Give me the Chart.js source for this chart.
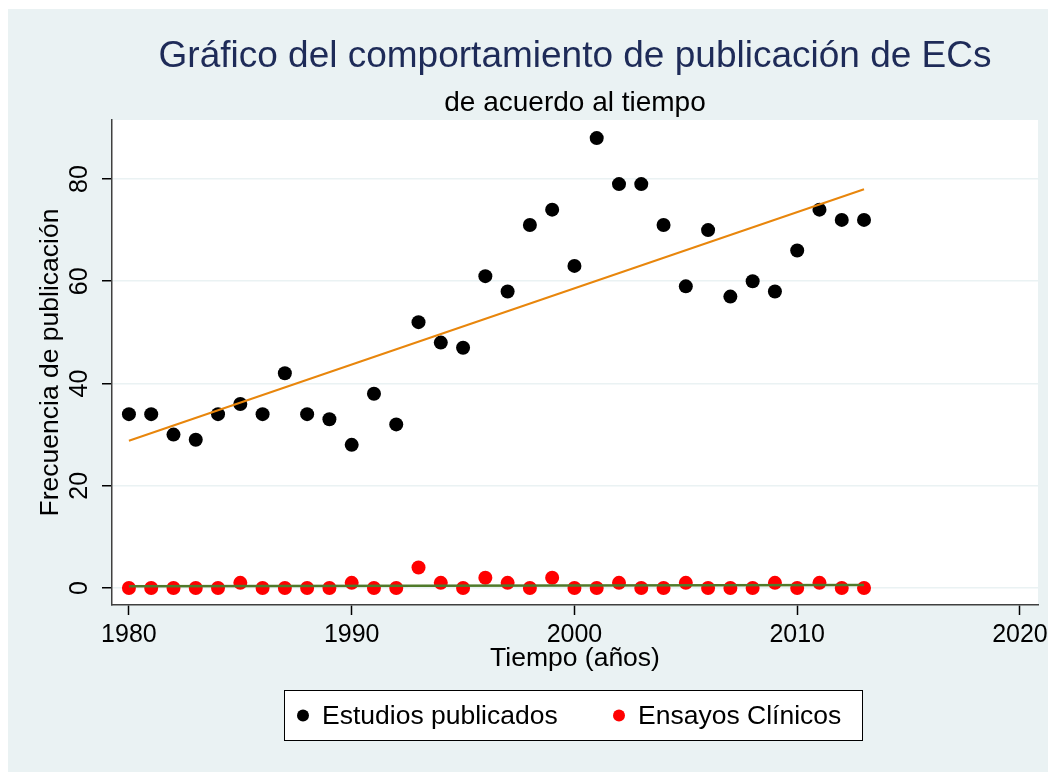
<!DOCTYPE html>
<html>
<head>
<meta charset="utf-8">
<script src="https://cdn.jsdelivr.net/npm/chart.js@4"></script>
<style>
  html, body { margin: 0; padding: 0; background: #ffffff; }
  #wrap { width: 1048px; height: 772px; position: relative; }
</style>
</head>
<body>
<div id="wrap"><canvas id="chart" width="1048" height="772"></canvas></div>
<script>
// Publicaciones por año
const years = [1980, 1981, 1982, 1983, 1984, 1985, 1986, 1987, 1988, 1989,
  1990, 1991, 1992, 1993, 1994, 1995, 1996, 1997, 1998, 1999,
  2000, 2001, 2002, 2003, 2004, 2005, 2006, 2007, 2008, 2009,
  2010, 2011, 2012, 2013];
const estudios = [34, 34, 30, 29, 34, 36, 34, 42, 34, 33,
  28, 38, 32, 52, 48, 47, 61, 58, 71, 74,
  63, 88, 79, 79, 71, 59, 70, 57, 60, 58,
  66, 74, 72, 72];
const ensayos = [0, 0, 0, 0, 0, 1, 0, 0, 0, 0,
  1, 0, 0, 4, 1, 0, 2, 1, 0, 2,
  0, 0, 1, 0, 0, 1, 0, 0, 0, 1,
  0, 1, 0, 0];

// Rectas de ajuste (extremos)
const fitYears = [1980, 2013];
const fitEstudios = [28.8, 78.0];
const fitEnsayos = [0.35, 0.6];

const yTicks = [0, 20, 40, 60, 80];
const xTicks = [1980, 1990, 2000, 2010, 2020];

const FONT = '"Liberation Sans", Arial, Helvetica, sans-serif';

function toPoints(xs, ys) {
  return xs.map((x, i) => ({ x: x, y: ys[i] }));
}

// Fondo estilo Stata
const backgroundPlugin = {
  id: 'stataBackground',
  beforeDraw(chart) {
    const { ctx, chartArea } = chart;
    ctx.save();
    ctx.fillStyle = '#ffffff';
    ctx.fillRect(0, 0, chart.width, chart.height);
    ctx.fillStyle = '#eaf2f3';
    ctx.fillRect(8, 9, chart.width - 8, chart.height - 9);
    ctx.fillStyle = '#ffffff';
    ctx.fillRect(chartArea.left, chartArea.top, chartArea.right - chartArea.left, chartArea.bottom - chartArea.top);
    ctx.restore();
  }
};

// Títulos, etiquetas de ejes y leyenda
const textPlugin = {
  id: 'stataText',
  afterDraw(chart) {
    const { ctx, chartArea } = chart;
    const xScale = chart.scales.x;
    const yScale = chart.scales.y;
    const cx = (chartArea.left + chartArea.right) / 2;
    const cy = (chartArea.top + chartArea.bottom) / 2;

    ctx.save();
    ctx.textAlign = 'center';
    ctx.textBaseline = 'alphabetic';

    ctx.fillStyle = '#1e2b58';
    ctx.font = `37px ${FONT}`;
    ctx.fillText('Gráfico del comportamiento de publicación de ECs', cx, 67);

    ctx.fillStyle = '#000000';
    ctx.font = `28px ${FONT}`;
    ctx.fillText('de acuerdo al tiempo', cx, 111);

    // Etiquetas X
    ctx.font = `25px ${FONT}`;
    xTicks.forEach(v => {
      ctx.fillText(String(v), xScale.getPixelForValue(v), 642);
    });

    // Etiquetas Y giradas
    ctx.textBaseline = 'middle';
    yTicks.forEach(v => {
      const py = yScale.getPixelForValue(v);
      ctx.save();
      ctx.translate(80, py);
      ctx.rotate(-Math.PI / 2);
      ctx.fillText(String(v), 0, 0);
      ctx.restore();
    });

    // Título eje Y
    ctx.font = `26.5px ${FONT}`;
    ctx.save();
    ctx.translate(51, cy);
    ctx.rotate(-Math.PI / 2);
    ctx.fillText('Frecuencia de publicación', 0, 0);
    ctx.restore();

    // Título eje X
    ctx.textBaseline = 'alphabetic';
    ctx.fillText('Tiempo (años)', cx, 666);

    // Leyenda
    const box = { x: 284.5, y: 690.5, w: 578, h: 50 };
    ctx.fillStyle = '#ffffff';
    ctx.fillRect(box.x, box.y, box.w, box.h);
    ctx.strokeStyle = '#000000';
    ctx.lineWidth = 1;
    ctx.strokeRect(box.x, box.y, box.w, box.h);

    const entries = [
      { label: chart.data.datasets[0].label, color: chart.data.datasets[0].backgroundColor, mx: 303, tx: 322 },
      { label: chart.data.datasets[1].label, color: chart.data.datasets[1].backgroundColor, mx: 619, tx: 638 }
    ];
    const ly = box.y + box.h / 2;
    ctx.textBaseline = 'middle';
    entries.forEach(e => {
      ctx.beginPath();
      ctx.arc(e.mx, ly, 6, 0, Math.PI * 2);
      ctx.fillStyle = e.color;
      ctx.fill();
      ctx.fillStyle = '#000000';
      ctx.textAlign = 'left';
      ctx.fillText(e.label, e.tx, ly + 1);
    });
    ctx.restore();
  }
};

new Chart(document.getElementById('chart'), {
  type: 'scatter',
  data: {
    datasets: [
      {
        label: 'Estudios publicados',
        data: toPoints(years, estudios),
        backgroundColor: '#000000',
        borderColor: '#000000',
        pointRadius: 7,
        borderWidth: 0,
        order: 2
      },
      {
        label: 'Ensayos Clínicos',
        data: toPoints(years, ensayos),
        backgroundColor: '#ff0000',
        borderColor: '#ff0000',
        pointRadius: 7,
        borderWidth: 0,
        order: 1
      },
      {
        type: 'line',
        label: 'Ajuste estudios',
        data: toPoints(fitYears, fitEstudios),
        borderColor: '#e8860c',
        borderWidth: 2,
        pointRadius: 0,
        fill: false,
        order: 0
      },
      {
        type: 'line',
        label: 'Ajuste ensayos',
        data: toPoints(fitYears, fitEnsayos),
        borderColor: '#4f7a2a',
        borderWidth: 2.5,
        pointRadius: 0,
        fill: false,
        order: 0
      }
    ]
  },
  options: {
    responsive: false,
    animation: false,
    events: [],
    layout: { padding: { left: 0, right: 10, top: 120, bottom: 97 } },
    plugins: {
      legend: { display: false },
      title: { display: false },
      tooltip: { enabled: false }
    },
    scales: {
      x: {
        type: 'linear',
        min: 1979.24,
        max: 2020.81,
        afterBuildTicks(scale) {
          scale.ticks = xTicks.map(v => ({ value: v }));
        },
        afterFit(scale) { scale.height = 70; },
        border: { display: true, color: '#404040', width: 1.5 },
        grid: {
          display: true,
          drawOnChartArea: false,
          drawTicks: true,
          tickLength: 10,
          tickColor: '#000000',
          tickWidth: 1.5
        },
        ticks: { display: false }
      },
      y: {
        type: 'linear',
        min: -3.33,
        max: 91.54,
        afterBuildTicks(scale) {
          scale.ticks = yTicks.map(v => ({ value: v }));
        },
        afterFit(scale) { scale.width = 112; },
        border: { display: true, color: '#404040', width: 1.5 },
        grid: {
          display: true,
          drawOnChartArea: true,
          drawTicks: true,
          tickLength: 10,
          color: '#eaf2f3',
          lineWidth: 1.5,
          tickColor: '#000000',
          tickWidth: 1.5
        },
        ticks: { display: false }
      }
    }
  },
  plugins: [backgroundPlugin, textPlugin]
});
</script>
</body>
</html>
